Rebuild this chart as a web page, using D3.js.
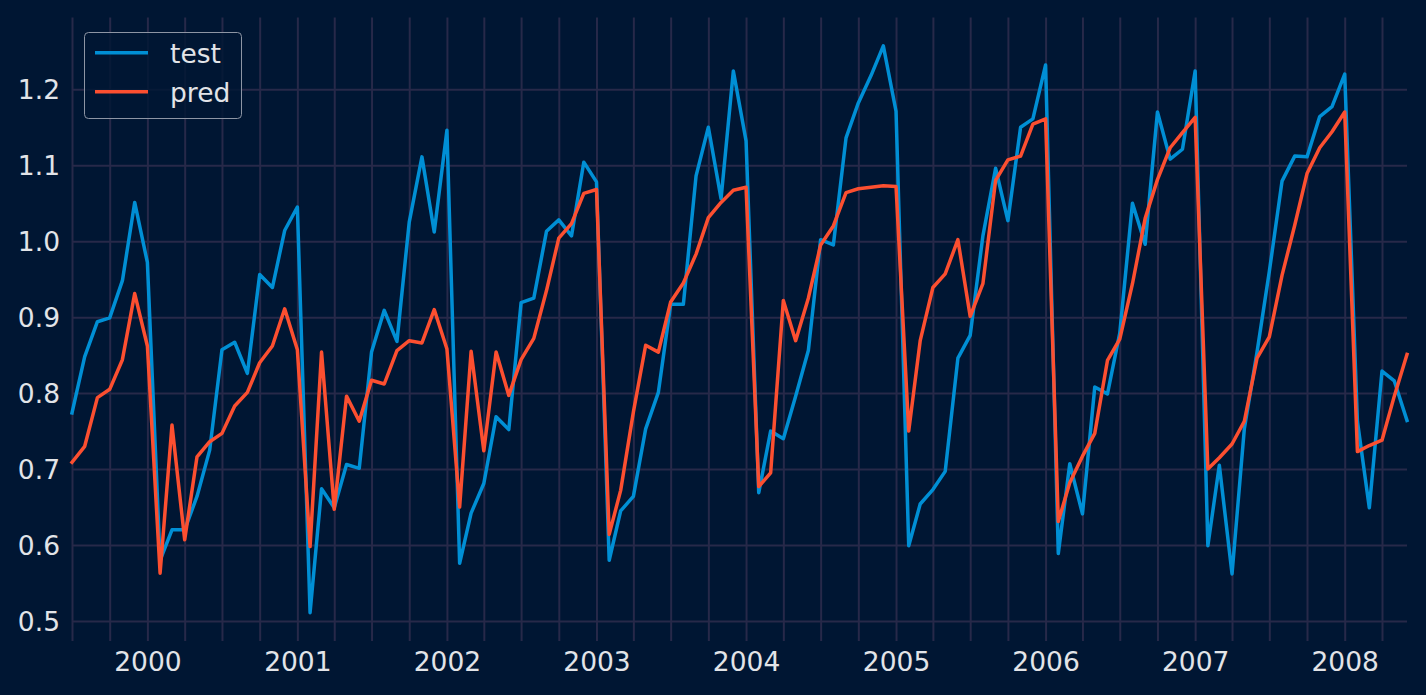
<!DOCTYPE html>
<html>
<head>
<meta charset="utf-8">
<script src="https://cdn.jsdelivr.net/npm/d3@7"></script>
<style>
  body { margin: 0; background: #001633; }
  svg { display: block; }
  text { font-family: "DejaVu Sans", sans-serif; }
</style>
</head>
<body>
<svg id="chart"></svg>
<script>
// monthly series, first month 1999-07, last 2008-06
const startMonth = "1999-07";
const test = [
  0.774, 0.848, 0.894, 0.899, 0.948, 1.051, 0.972, 0.580, 0.620, 0.620, 0.664, 0.725,
  0.857, 0.867, 0.826, 0.956, 0.939, 1.014, 1.045, 0.511, 0.674, 0.649, 0.706, 0.701,
  0.854, 0.909, 0.868, 1.025, 1.111, 1.012, 1.146, 0.576, 0.642, 0.681, 0.769, 0.752,
  0.919, 0.925, 1.013, 1.028, 1.007, 1.104, 1.078, 0.580, 0.645, 0.664, 0.753, 0.801,
  0.917, 0.917, 1.086, 1.150, 1.056, 1.224, 1.132, 0.669, 0.750, 0.740, 0.796, 0.856,
  1.002, 0.995, 1.136, 1.182, 1.218, 1.257, 1.171, 0.599, 0.654, 0.673, 0.697, 0.846,
  0.876, 1.007, 1.096, 1.027, 1.150, 1.161, 1.232, 0.589, 0.707, 0.641, 0.808, 0.799,
  0.879, 1.050, 0.996, 1.170, 1.108, 1.121, 1.224, 0.599, 0.705, 0.562, 0.753, 0.854,
  0.960, 1.079, 1.112, 1.111, 1.164, 1.177, 1.220, 0.763, 0.649, 0.829, 0.816, 0.764
];
const pred = [
  0.709, 0.730, 0.794, 0.805, 0.844, 0.931, 0.862, 0.563, 0.758, 0.607, 0.716, 0.736,
  0.747, 0.783, 0.801, 0.840, 0.862, 0.911, 0.857, 0.598, 0.854, 0.647, 0.796, 0.763,
  0.817, 0.812, 0.856, 0.869, 0.866, 0.910, 0.858, 0.650, 0.855, 0.724, 0.854, 0.797,
  0.844, 0.872, 0.935, 1.004, 1.023, 1.063, 1.068, 0.614, 0.672, 0.775, 0.863, 0.854,
  0.920, 0.945, 0.983, 1.031, 1.051, 1.067, 1.071, 0.677, 0.695, 0.922, 0.869, 0.925,
  0.995, 1.020, 1.064, 1.069, 1.071, 1.073, 1.072, 0.750, 0.869, 0.939, 0.957, 1.002,
  0.901, 0.944, 1.080, 1.107, 1.112, 1.154, 1.161, 0.631, 0.682, 0.717, 0.747, 0.843,
  0.871, 0.944, 1.030, 1.081, 1.123, 1.143, 1.163, 0.700, 0.715, 0.733, 0.763, 0.846,
  0.874, 0.955, 1.021, 1.089, 1.123, 1.144, 1.170, 0.723, 0.731, 0.738, 0.796, 0.851
];
const yTicks = [0.5, 0.6, 0.7, 0.8, 0.9, 1.0, 1.1, 1.2];
const seriesNames = ["test", "pred"];
const seriesColors = ["#008fd5", "#fc4f30"];

const width = 1426, height = 695;
const margin = {top: 17.6, right: 19, bottom: 54, left: 72};
const bg = "#001633", gridColor = "#272949", textColor = "#e2e4e8";
const fontSize = 26.5;

const t0 = d3.utcParse("%Y-%m")(startMonth);
const months = test.map((_, i) => d3.utcMonth.offset(t0, i));

const svg = d3.select("#chart").attr("width", width).attr("height", height);
svg.append("rect").attr("width", width).attr("height", height).attr("fill", bg);

const x = d3.scaleUtc()
  .domain(d3.extent(months))
  .range([margin.left, width - margin.right]);

// matplotlib style 5% margin
const [lo, hi] = d3.extent(test.concat(pred));
const pad = (hi - lo) * 0.05;
const y = d3.scaleLinear()
  .domain([lo - pad, hi + pad])
  .range([height - margin.bottom, margin.top]);

// vertical quarterly grid
svg.append("g")
  .attr("transform", `translate(0,${height - margin.bottom})`)
  .call(d3.axisBottom(x)
    .ticks(d3.utcMonth.every(3))
    .tickSize(-(height - margin.top - margin.bottom))
    .tickFormat(""))
  .call(g => g.select(".domain").remove())
  .call(g => g.selectAll(".tick line").attr("stroke", gridColor).attr("stroke-width", 2));

// horizontal grid + labels
svg.append("g")
  .attr("transform", `translate(${margin.left},0)`)
  .call(d3.axisLeft(y)
    .tickValues(yTicks)
    .tickSize(-(width - margin.left - margin.right))
    .tickPadding(12)
    .tickFormat(d3.format(".1f")))
  .call(g => g.select(".domain").remove())
  .call(g => g.selectAll(".tick line").attr("stroke", gridColor).attr("stroke-width", 2))
  .call(g => g.selectAll(".tick text")
    .attr("fill", textColor)
    .attr("font-size", fontSize)
    .attr("dy", "0.36em"));

// year labels
svg.append("g")
  .attr("transform", `translate(0,${height - margin.bottom})`)
  .call(d3.axisBottom(x)
    .ticks(d3.utcYear.every(1))
    .tickSize(0)
    .tickPadding(11)
    .tickFormat(d3.utcFormat("%Y")))
  .call(g => g.select(".domain").remove())
  .call(g => g.selectAll(".tick text")
    .attr("fill", textColor)
    .attr("font-size", fontSize));

const line = d3.line()
  .x((d, i) => x(months[i]))
  .y(d => y(d));

[test, pred].forEach((vals, k) => {
  svg.append("path")
    .datum(vals)
    .attr("d", line)
    .attr("fill", "none")
    .attr("stroke", seriesColors[k])
    .attr("stroke-width", 3.5)
    .attr("stroke-linejoin", "round")
    .attr("stroke-linecap", "square");
});

// legend
const legend = svg.append("g").attr("transform", "translate(84,32)");
legend.append("rect")
  .attr("x", 0.5).attr("y", 0.5)
  .attr("width", 157).attr("height", 86)
  .attr("rx", 4)
  .attr("fill", bg)
  .attr("fill-opacity", 0.8)
  .attr("stroke", "#8d95a4")
  .attr("stroke-width", 1);

seriesNames.forEach((name, k) => {
  const cy = 20.7 + k * 39;
  legend.append("line")
    .attr("x1", 11).attr("x2", 64)
    .attr("y1", cy).attr("y2", cy)
    .attr("stroke", seriesColors[k])
    .attr("stroke-width", 3.5);
  legend.append("text")
    .attr("x", 86)
    .attr("y", cy + 10.5)
    .attr("fill", textColor)
    .attr("font-size", fontSize)
    .text(name);
});
</script>
</body>
</html>
